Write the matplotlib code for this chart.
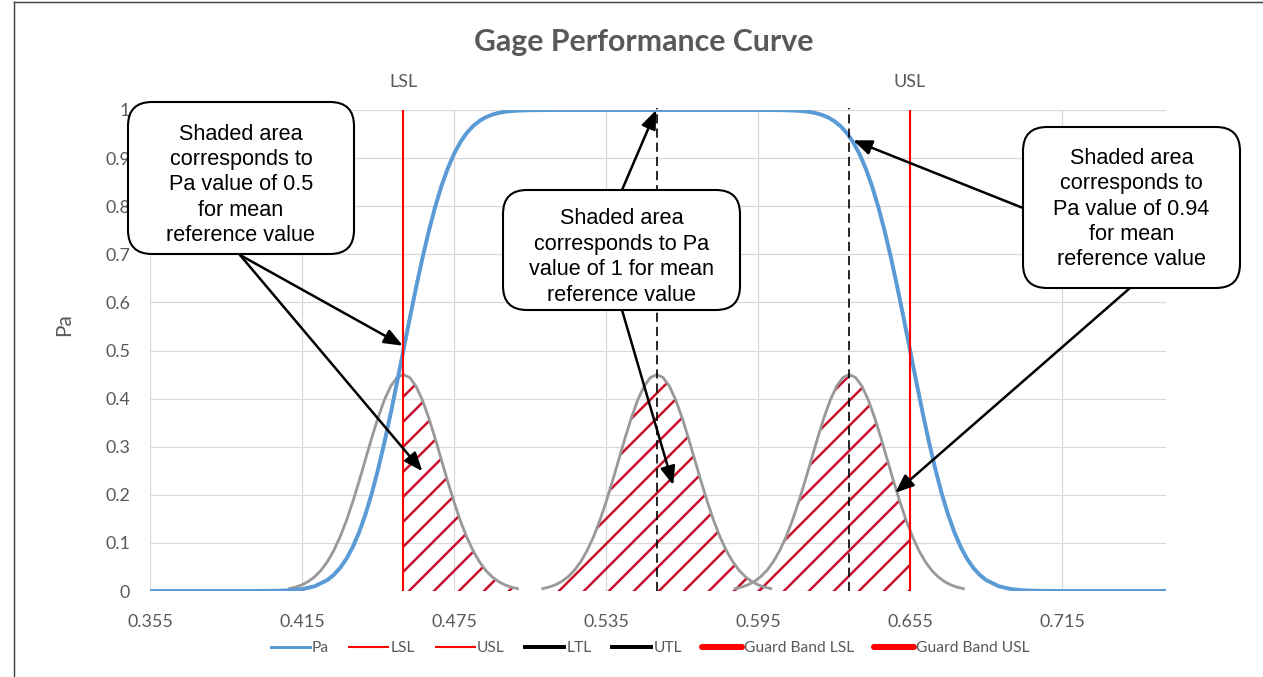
"""
Gage performance curve: Pa vs reference value, with LSL/USL limits,
three reference-value distributions (hatched acceptance areas) and callouts.
"""

import matplotlib
matplotlib.use("Agg")
import matplotlib.pyplot as plt
from matplotlib.lines import Line2D
from matplotlib.patches import FancyBboxPatch, Rectangle
from matplotlib.transforms import IdentityTransform

W, H, DPI = 1264, 677, 150

# ---- data ----
LSL = 0.455
USL = 0.655
REF_MEANS = [0.455, 0.555, 0.631]      # mean reference values of the three distributions
TOL_LINES = [0.555, 0.631]             # black dashed markers

PA_X = [0.355, 0.390, 0.395, 0.400, 0.405, 0.410, 0.415, 0.420, 0.425, 0.4275,
        0.430, 0.4325, 0.435, 0.4375, 0.440, 0.4425, 0.445, 0.4475, 0.450, 0.4525,
        0.455, 0.4575, 0.460, 0.4625, 0.465, 0.4675, 0.470, 0.4725, 0.475, 0.4775,
        0.480, 0.4825, 0.485, 0.4875, 0.490, 0.4925, 0.495, 0.4975, 0.500, 0.5025,
        0.505, 0.510, 0.515, 0.595, 0.600, 0.605, 0.6075, 0.610, 0.6125, 0.615,
        0.6175, 0.620, 0.6225, 0.625, 0.6275, 0.630, 0.6325, 0.635, 0.6375, 0.640,
        0.6425, 0.645, 0.6475, 0.650, 0.6525, 0.655, 0.6575, 0.660, 0.6625, 0.665,
        0.6675, 0.670, 0.6725, 0.675, 0.6775, 0.680, 0.6825, 0.685, 0.690, 0.695,
        0.700, 0.705, 0.710, 0.715, 0.756]
PA_Y = [0.0, 0.0, 0.00003, 0.0001, 0.0004, 0.0013, 0.0038, 0.0098, 0.0228, 0.0334,
        0.0478, 0.0668, 0.0912, 0.1217, 0.1587, 0.2023, 0.2525, 0.3085, 0.3694, 0.4338,
        0.5000, 0.5662, 0.6306, 0.6915, 0.7475, 0.7977, 0.8413, 0.8783, 0.9088, 0.9332,
        0.9522, 0.9666, 0.9772, 0.9849, 0.9902, 0.9938, 0.9962, 0.9977, 0.9987, 0.9992,
        0.9996, 0.9999, 1.0, 1.0, 0.9999, 0.9996, 0.9992, 0.9987, 0.9977, 0.9962,
        0.9938, 0.9902, 0.9849, 0.9772, 0.9666, 0.9522, 0.9332, 0.9088, 0.8783, 0.8413,
        0.7977, 0.7475, 0.6915, 0.6306, 0.5662, 0.5000, 0.4338, 0.3694, 0.3085, 0.2525,
        0.2023, 0.1587, 0.1217, 0.0912, 0.0668, 0.0478, 0.0334, 0.0228, 0.0098, 0.0038,
        0.0013, 0.0004, 0.0001, 0.0, 0.0]

# distribution shape (offset from mean, height)
GAUSS_DX = [-0.045, -0.0425, -0.040, -0.0375, -0.035, -0.0325, -0.030, -0.0275, -0.025,
            -0.0225, -0.020, -0.0175, -0.015, -0.0125, -0.010, -0.0075, -0.005, -0.0025,
            0.0, 0.0025, 0.005, 0.0075, 0.010, 0.0125, 0.015, 0.0175, 0.020, 0.0225,
            0.025, 0.0275, 0.030, 0.0325, 0.035, 0.0375, 0.040, 0.0425, 0.045]
GAUSS_Y = [0.0050, 0.0081, 0.0128, 0.0198, 0.0296, 0.0430, 0.0609, 0.0838, 0.1122,
           0.1461, 0.1850, 0.2278, 0.2729, 0.3180, 0.3603, 0.3971, 0.4257, 0.4438,
           0.4500, 0.4438, 0.4257, 0.3971, 0.3603, 0.3180, 0.2729, 0.2278, 0.1850,
           0.1461, 0.1122, 0.0838, 0.0609, 0.0430, 0.0296, 0.0198, 0.0128, 0.0081,
           0.0050]
# hatched part of each distribution (x-range kept)
HATCH_RANGES = [(LSL, 1.0), (0.0, 1.0), (0.0, USL)]

XTICKS = [0.355, 0.415, 0.475, 0.535, 0.595, 0.655, 0.715]
YTICKS = [0, 0.1, 0.2, 0.3, 0.4, 0.5, 0.6, 0.7, 0.8, 0.9, 1.0]
YTICKLABELS = ["0", "0.1", "0.2", "0.3", "0.4", "0.5", "0.6", "0.7", "0.8", "0.9", "1"]

LEGEND_LABELS = ["Pa", "LSL", "USL", "LTL", "UTL", "Guard Band LSL", "Guard Band USL"]

CALLOUTS = [
    ("Shaded area\ncorresponds to\nPa value of 0.5\nfor mean\nreference value",
     (128, 102, 354, 254), 185,
     [((240, 255), (0.4548, 0.51)), ((240, 255), (0.4625, 0.249))]),
    ("Shaded area\ncorresponds to Pa\nvalue of 1 for mean\nreference value",
     (503, 190, 740, 310), 257,
     [((622, 190), (0.5548, 1.0)), ((622, 310), (0.5615, 0.22))]),
    ("Shaded area\ncorresponds to\nPa value of 0.94\nfor mean\nreference value",
     (1023, 127, 1240, 288), 209,
     [((1023, 208), (0.6325, 0.937)), ((1130, 288), (0.6491, 0.204))]),
]

BLUE = "#5B9BD5"
RED = "#FF0000"
HATCH_RED = "#C8102E"
GRAY_TXT = "#595959"

plt.rcParams["font.family"] = ["Lato", "DejaVu Sans"]
plt.rcParams["hatch.linewidth"] = 1.2
plt.rcParams["hatch.color"] = HATCH_RED


def fig_xy(x, y):
    """image pixel (origin top-left) -> figure fraction"""
    return x / W, 1 - y / H


fig = plt.figure(figsize=(W / DPI, H / DPI), dpi=DPI)
ax = fig.add_axes([150 / W, 1 - 591 / H, 1016 / W, 481 / H])
ax.set_xlim(0.355, 0.756)
ax.set_ylim(0, 1)

for s in ax.spines.values():
    s.set_visible(False)
ax.set_xticks(XTICKS)
ax.set_xticklabels([f"{v:.3f}" for v in XTICKS])
ax.set_yticks(YTICKS)
ax.set_yticklabels(YTICKLABELS)
ax.tick_params(length=0, labelsize=8.6, labelcolor=GRAY_TXT)
ax.tick_params(axis="x", pad=11)
ax.tick_params(axis="y", pad=9.5)
ax.grid(True, color="#D9D9D9", lw=0.6)
ax.set_axisbelow(True)

# hatched acceptance areas + distributions
for mean, (lo, hi) in zip(REF_MEANS, HATCH_RANGES):
    gx = [mean + d for d in GAUSS_DX]
    fill = ax.fill_between(gx, 0, GAUSS_Y, facecolor="none", edgecolor=HATCH_RED,
                           hatch="//", linewidth=0, zorder=2)
    fill.set_clip_path(Rectangle((lo, 0), hi - lo, 1, transform=ax.transData))
    ax.plot(gx, GAUSS_Y, color="#999999", lw=1.35, zorder=3)

# Pa curve
ax.plot(PA_X, PA_Y, color=BLUE, lw=1.9, zorder=4, solid_capstyle="butt")

# spec limits
for x, name in [(LSL, "LSL"), (USL, "USL")]:
    ax.plot([x, x], [0, 1], color=RED, lw=1.0, zorder=5)
    ax.text(x, 1.058, name, ha="center", va="center", fontsize=8.6,
            color=GRAY_TXT, clip_on=False)

for x in TOL_LINES:
    ax.plot([x, x], [0, 1.004], color="black", lw=0.8, dashes=(5.5, 3),
            zorder=5, clip_on=False)

# callouts
for text, (x0, y0, x1, y1), ty, arrows in CALLOUTS:
    for start, tip in arrows:
        ax.annotate("", xy=tip, xycoords="data", xytext=fig_xy(*start),
                    textcoords="figure fraction", annotation_clip=False,
                    arrowprops=dict(arrowstyle="-|>,head_length=0.75,head_width=0.3",
                                    mutation_scale=10, lw=1.2, color="black",
                                    shrinkA=0, shrinkB=0), zorder=6)
    box = FancyBboxPatch((x0, H - y1), x1 - x0, y1 - y0,
                         boxstyle="round,pad=0,rounding_size=24",
                         transform=IdentityTransform(), fc="white", ec="black",
                         lw=1.0, zorder=5)
    fig.add_artist(box)
    fig.text(*fig_xy((x0 + x1) / 2, ty), text, ha="center", va="center",
             multialignment="center", fontsize=10.4, linespacing=1.28,
             family="Liberation Sans", color="black", zorder=6)

# titles
fig.text(*fig_xy(644, 42), "Gage Performance Curve", ha="center", va="center",
         fontsize=14.5, fontweight="bold", color=GRAY_TXT)
fig.text(*fig_xy(64, 325), "Pa", ha="center", va="center", rotation=90,
         fontsize=10, color=GRAY_TXT)

# legend
handles = [
    Line2D([], [], color=BLUE, lw=1.45),
    Line2D([], [], color=RED, lw=1.0),
    Line2D([], [], color=RED, lw=1.0),
    Line2D([], [], color="black", lw=1.9),
    Line2D([], [], color="black", lw=1.9),
    Line2D([], [], color=RED, lw=2.9, solid_capstyle="round"),
    Line2D([], [], color=RED, lw=2.9, solid_capstyle="round"),
]
leg = fig.legend(handles, LEGEND_LABELS, loc="center", bbox_to_anchor=fig_xy(650, 648),
                 ncol=7, frameon=False, fontsize=7.5, handlelength=2.5,
                 handletextpad=0.15, columnspacing=1.3)
for t in leg.get_texts():
    t.set_color(GRAY_TXT)

# outer chart border
fig.add_artist(Line2D([14 / W, 14 / W], [0, 1 - 2 / H], color="#404040", lw=0.7,
                      transform=fig.transFigure))
fig.add_artist(Line2D([14 / W, 1], [1 - 2 / H, 1 - 2 / H], color="#404040", lw=0.7,
                      transform=fig.transFigure))

fig.savefig("out.png", dpi=DPI)
